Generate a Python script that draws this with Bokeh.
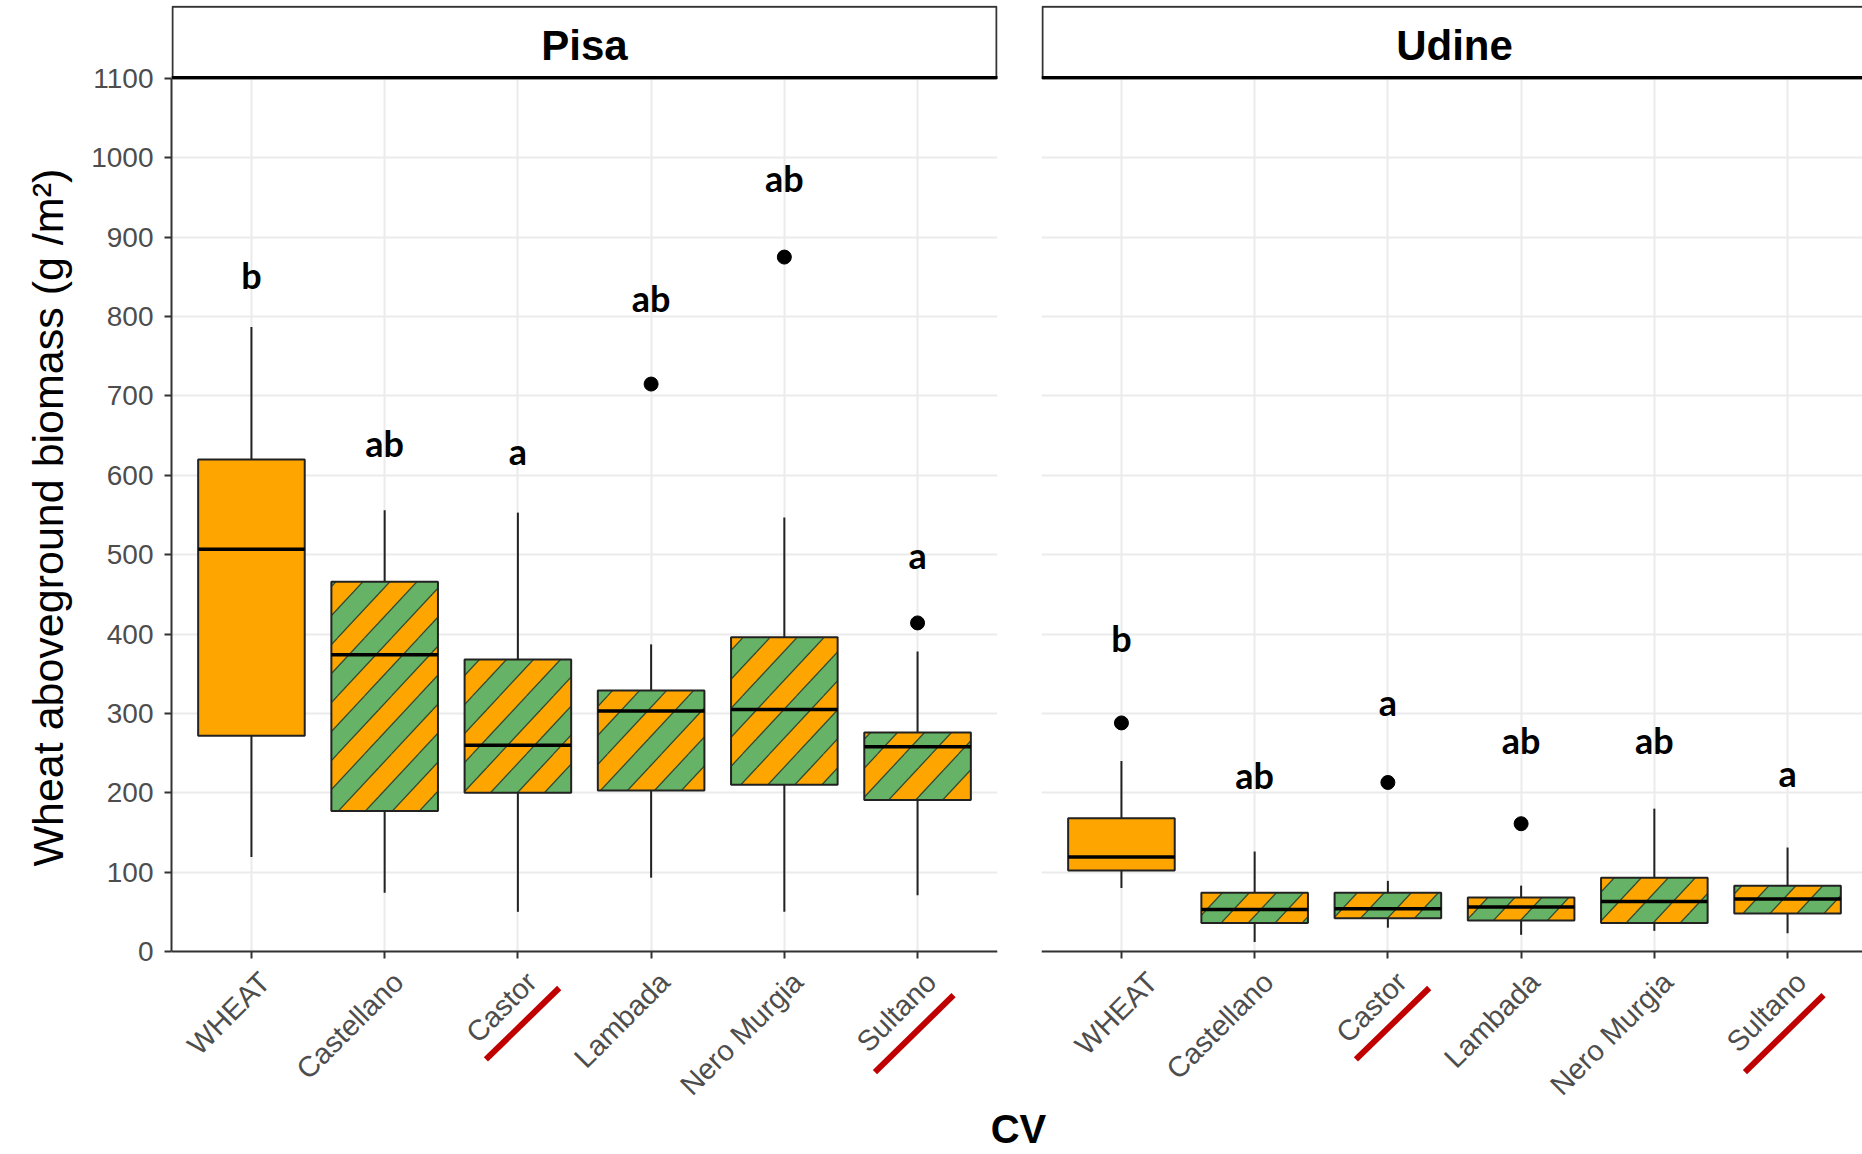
import math
import base64
from bokeh.plotting import figure
from bokeh.layouts import column, row
from bokeh.models import Range1d, FixedTicker, Grid, ImageURLTexture
from bokeh.core.properties import value
from bokeh.embed import file_html
from bokeh.resources import INLINE

# ---------------- data ----------------
sites = ["Pisa", "Udine"]
cultivars = ["WHEAT", "Castellano", "Castor", "Lambada", "Nero Murgia", "Sultano"]
positions = [1, 2, 3, 4, 5, 6]
y_ticks = [0, 100, 200, 300, 400, 500, 600, 700, 800, 900, 1000, 1100]

pisa_lower = [119, 74, 50, 93, 50, 71]
pisa_q1 = [272, 177, 200, 203, 210, 191]
pisa_median = [507, 374, 260, 303, 305, 258]
pisa_q3 = [620, 466, 368, 329, 396, 276]
pisa_upper = [787, 556, 553, 387, 547, 378]
pisa_out_x = [4, 5, 6]
pisa_out_y = [715, 875, 414]
pisa_letters = ["b", "ab", "a", "ab", "ab", "a"]
pisa_letter_y = [852, 641, 631, 823, 974, 500]

udine_lower = [80, 12, 30, 21, 26, 23]
udine_q1 = [102, 36, 42, 39, 36, 48]
udine_median = [119, 53, 54, 56, 63, 66]
udine_q3 = [168, 74, 74, 68, 93, 83]
udine_upper = [240, 126, 89, 83, 180, 131]
udine_out_x = [1, 3, 4]
udine_out_y = [288, 213, 161]
udine_letters = ["b", "ab", "a", "ab", "ab", "a"]
udine_letter_y = [395, 222, 315, 267, 267, 225]

marked = ["Castor", "Sultano"]

# ---------------- style / layout ----------------
ORANGE = "#FFA500"
GREEN = "#66B266"
TOTAL_W = 1862
TOTAL_H = 1154
LEFT = 171            # frame left of Pisa panel
FRAME_W = 826
GAP = 44
TOP = 5               # strip top
Y0_PIX = 951          # pixel row of value 0
Y1100_PIX = 78        # pixel row of value 1100
PANEL_BOTTOM = 1101   # bottom of the panel figures
FRAME_H = PANEL_BOTTOM - TOP
PX_PER_Y = (Y0_PIX - Y1100_PIX) / 1100.0
Y_END = 1100 + (Y1100_PIX - TOP) / PX_PER_Y
Y_START = -(PANEL_BOTTOM - Y0_PIX) / PX_PER_Y
PX_PER_CAT = FRAME_W / 6.2
UDINE_W = TOTAL_W - LEFT - FRAME_W - GAP
UDINE_END = 0.4 + UDINE_W / PX_PER_CAT
BOX_W = 0.8
TICK_FONT = "28px"
XTICK_FONT = "29px"

# stripe tile (green bands over the orange fill)
TILE_W, TILE_H = 54, 58


def stripe_tile_url():
    q = TILE_W / 4
    polys, lines = [], []
    for k in (-TILE_W, 0, TILE_W, 2 * TILE_W):
        a, b = k - q, k + q
        polys.append(f'<polygon points="{a},0 {b},0 {b - TILE_W},{TILE_H} {a - TILE_W},{TILE_H}" fill="{GREEN}"/>')
        for e in (a, b):
            lines.append(f'<line x1="{e}" y1="0" x2="{e - TILE_W}" y2="{TILE_H}" stroke="#2F4A2F" stroke-width="1.2"/>')
    svg = (f'<svg xmlns="http://www.w3.org/2000/svg" width="{TILE_W}" height="{TILE_H}" '
           f'viewBox="0 0 {TILE_W} {TILE_H}">' + "".join(polys + lines) + "</svg>")
    return "data:image/svg+xml;base64," + base64.b64encode(svg.encode()).decode()


STRIPE_URL = stripe_tile_url()


def make_panel(site, lower, q1, med, q3, upper, out_x, out_y, letters, letter_y,
               x_end, frame_w, left, right, show_y):
    p = figure(frame_width=frame_w, frame_height=FRAME_H,
               x_range=Range1d(0.4, x_end), y_range=Range1d(Y_START, Y_END),
               output_backend="svg", toolbar_location=None,
               y_axis_location="left" if show_y else None,
               min_border_left=left, min_border_right=right,
               min_border_top=TOP, min_border_bottom=0)
    p.outline_line_color = None
    p.background_fill_color = "white"
    p.border_fill_color = "white"
    for g in p.xgrid + p.ygrid:
        g.grid_line_color = None
    p.add_layout(Grid(dimension=0, ticker=FixedTicker(ticks=positions),
                      grid_line_color="#EBEBEB", grid_line_width=2))
    p.add_layout(Grid(dimension=1, ticker=FixedTicker(ticks=y_ticks),
                      grid_line_color="#EBEBEB", grid_line_width=2))

    xa = p.xaxis[0]
    xa.fixed_location = 0
    xa.ticker = FixedTicker(ticks=positions)
    xa.major_label_overrides = {pos: "\n" + name for pos, name in zip(positions, cultivars)}
    xa.major_label_orientation = math.pi / 4
    xa.major_label_text_font = "Liberation Sans"
    xa.major_label_text_font_size = XTICK_FONT
    xa.major_label_text_color = "#4D4D4D"
    xa.major_label_standoff = 5
    xa.axis_line_color = "#333333"
    xa.axis_line_width = 2
    xa.major_tick_line_color = "#333333"
    xa.major_tick_line_width = 2
    xa.major_tick_out = 7
    xa.major_tick_in = 0
    xa.minor_tick_line_color = None

    if show_y:
        ya = p.yaxis[0]
        ya.ticker = FixedTicker(ticks=y_ticks)
        ya.bounds = (0, 1100)
        ya.major_label_text_font = "Liberation Sans"
        ya.major_label_text_font_size = TICK_FONT
        ya.major_label_text_color = "#4D4D4D"
        ya.major_label_standoff = 11
        ya.axis_line_color = "#333333"
        ya.axis_line_width = 2
        ya.major_tick_line_color = "#333333"
        ya.major_tick_line_width = 2
        ya.major_tick_out = 7
        ya.major_tick_in = 0
        ya.minor_tick_line_color = None
        ya.axis_label = "\u00a0" * 6 + "Wheat aboveground biomass (g /m²)"
        ya.axis_label_text_font = "Liberation Sans"
        ya.axis_label_text_font_size = "43px"
        ya.axis_label_text_font_style = "normal"
        ya.axis_label_text_color = "black"
        ya.axis_label_standoff = 16

    one_px_x = 1.0 / PX_PER_CAT
    one_px_y = 1.0 / PX_PER_Y
    # white area below the x axis (tick-label zone)
    p.quad(left=[0.4], right=[x_end + 1], bottom=[Y_START], top=[0],
           fill_color="white", line_color=None)
    # facet strip (white box covering the grid above 1100)
    strip_right = x_end - one_px_x if show_y else x_end + 1
    p.quad(left=[0.4 + one_px_x], right=[strip_right], bottom=[1100], top=[Y_END - 1.3 * one_px_y],
           fill_color="white", line_color="#333333", line_width=2)
    p.segment(x0=[0.4], y0=[1100 + one_px_y], x1=[x_end + 1], y1=[1100 + one_px_y],
              line_color="black", line_width=3)
    p.text(x=[3.5], y=[1100 + 33 * one_px_y], text=[site],
           text_font=value("Liberation Sans"), text_font_style="bold",
           text_font_size="42px", text_align="center", text_baseline="middle",
           text_color="black")

    # whiskers
    p.segment(x0=positions, y0=q3, x1=positions, y1=upper, line_color="#222222", line_width=2)
    p.segment(x0=positions, y0=q1, x1=positions, y1=lower, line_color="#222222", line_width=2)
    # boxes: wheat plain, cultivars striped
    p.vbar(x=positions[:1], width=BOX_W, bottom=q1[:1], top=q3[:1],
           fill_color=ORANGE, line_color="#222222", line_width=2)
    p.vbar(x=positions[1:], width=BOX_W, bottom=q1[1:], top=q3[1:],
           fill_color=ORANGE, line_color="#222222", line_width=2,
           hatch_pattern=value("stripe"), hatch_color=GREEN,
           hatch_extra={"stripe": ImageURLTexture(url=STRIPE_URL)})
    # medians
    p.segment(x0=[x - BOX_W / 2 for x in positions], y0=med,
              x1=[x + BOX_W / 2 for x in positions], y1=med,
              line_color="black", line_width=3.5)
    # outliers
    p.scatter(x=out_x, y=out_y, size=14, marker="circle", fill_color="black", line_color="black")
    # significance letters
    p.text(x=positions, y=letter_y, text=letters, text_font=value("Lato"),
           text_font_style="bold", text_font_size="36px", text_align="center",
           text_baseline="middle", text_color="black")

    # red marks under the marked cultivar names
    mx0, my0, mx1, my1 = [], [], [], []
    for name in marked:
        c = positions[cultivars.index(name)]
        if name == "Castor":
            mx0.append(c - 0.24); my0.append(-136); mx1.append(c + 0.31); my1.append(-46)
        else:
            mx0.append(c - 0.32); my0.append(-152); mx1.append(c + 0.27); my1.append(-55)
    p.segment(x0=mx0, y0=my0, x1=mx1, y1=my1, line_color="#C00000", line_width=6)
    return p


p1 = make_panel(sites[0], pisa_lower, pisa_q1, pisa_median, pisa_q3, pisa_upper,
                pisa_out_x, pisa_out_y, pisa_letters, pisa_letter_y,
                6.6, FRAME_W, LEFT, GAP, True)
p2 = make_panel(sites[1], udine_lower, udine_q1, udine_median, udine_q3, udine_upper,
                udine_out_x, udine_out_y, udine_letters, udine_letter_y,
                UDINE_END, UDINE_W, 0, 0, False)

CV_H = TOTAL_H - PANEL_BOTTOM
pcv = figure(frame_width=TOTAL_W, frame_height=CV_H,
             x_range=Range1d(0, TOTAL_W), y_range=Range1d(0, CV_H),
             output_backend="svg", toolbar_location=None,
             x_axis_location=None, y_axis_location=None,
             min_border_left=0, min_border_right=0, min_border_top=0, min_border_bottom=0)
pcv.outline_line_color = None
pcv.xgrid.grid_line_color = None
pcv.ygrid.grid_line_color = None
pcv.text(x=[1018], y=[26], text=["CV"], text_font=value("Liberation Sans"),
         text_font_style="bold", text_font_size="40px", text_align="center",
         text_baseline="middle", text_color="black")

layout = column(row(p1, p2), pcv)

open("out.html", "w").write(file_html(layout, INLINE))
